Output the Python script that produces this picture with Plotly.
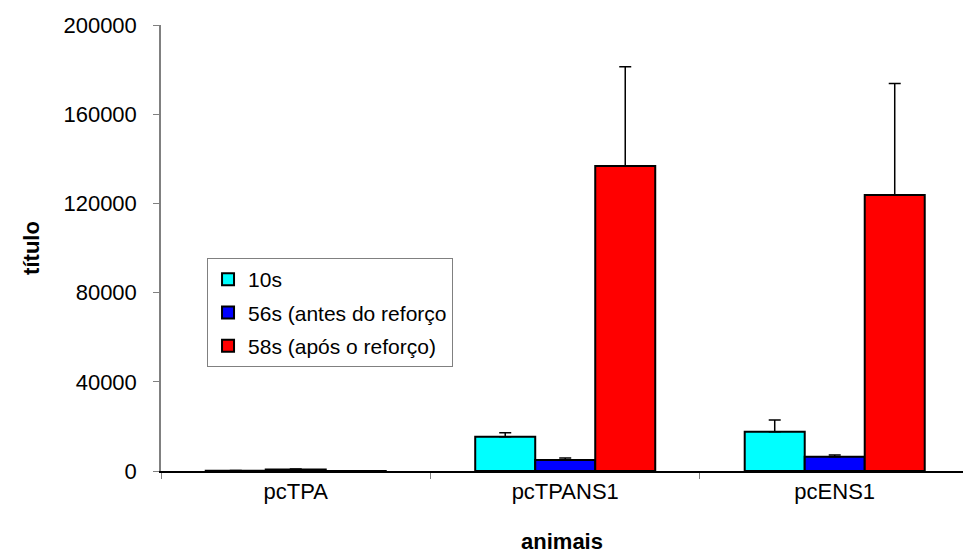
import plotly.graph_objects as go

categories = ["pcTPA", "pcTPANS1", "pcENS1"]
series_names = ["10s", "56s (antes do reforço", "58s (após o reforço)"]
s10 = [150, 15400, 17600]
s10_err = [100, 1800, 5300]
s56 = [700, 4900, 6400]
s56_err = [150, 900, 750]
s58 = [30, 136800, 123800]
s58_err = [60, 44500, 50000]
colors = ["#00FFFF", "#0000FF", "#FF0000"]
y_ticks = [0, 40000, 80000, 120000, 160000, 200000]

fig = go.Figure()
for i, (name, vals, errs, col) in enumerate(zip(series_names, [s10, s56, s58], [s10_err, s56_err, s58_err], colors)):
    fig.add_trace(go.Bar(
        x=categories, y=vals, name=name, legendgroup="g%d" % i,
        marker=dict(color=col, line=dict(color="black", width=2)),
        error_y=dict(type="data", array=errs, arrayminus=[0] * len(errs), symmetric=False,
                     color="black", thickness=1.5, width=6),
    ))

font_family = "Liberation Sans, Arial, sans-serif"
fig.update_layout(
    width=963, height=560,
    margin=dict(l=161, r=0, t=25, b=89),
    paper_bgcolor="white", plot_bgcolor="white",
    barmode="group", bargap=0.332, bargroupgap=0,
    font=dict(family=font_family, color="black", size=22),
    showlegend=True,
    legend=dict(x=0.0574, y=0.4776, xanchor="left", yanchor="top",
                bgcolor="white", bordercolor="#808080", borderwidth=1,
                font=dict(size=21, family=font_family), tracegroupgap=3,
                itemwidth=30, itemsizing="constant"),
    xaxis=dict(
        range=[-0.5, 2.476], showline=True, linecolor="black", linewidth=1.5,
        ticks="outside", tickson="boundaries", ticklen=6, tickcolor="#808080",
        tickfont=dict(size=22), showgrid=False,
        title=dict(text="<b>animais</b>", font=dict(size=22), standoff=30),
    ),
    yaxis=dict(
        range=[0, 200000], tickvals=y_ticks, tickformat="d",
        showline=True, linecolor="#808080", linewidth=1.5,
        ticks="outside", ticklen=6, tickcolor="#808080",
        tickfont=dict(size=22), showgrid=False, zeroline=False,
        ticklabelstandoff=12,
        title=dict(text="<b>título</b>", font=dict(size=22), standoff=18),
    ),
)

fig.write_html("out.html")
